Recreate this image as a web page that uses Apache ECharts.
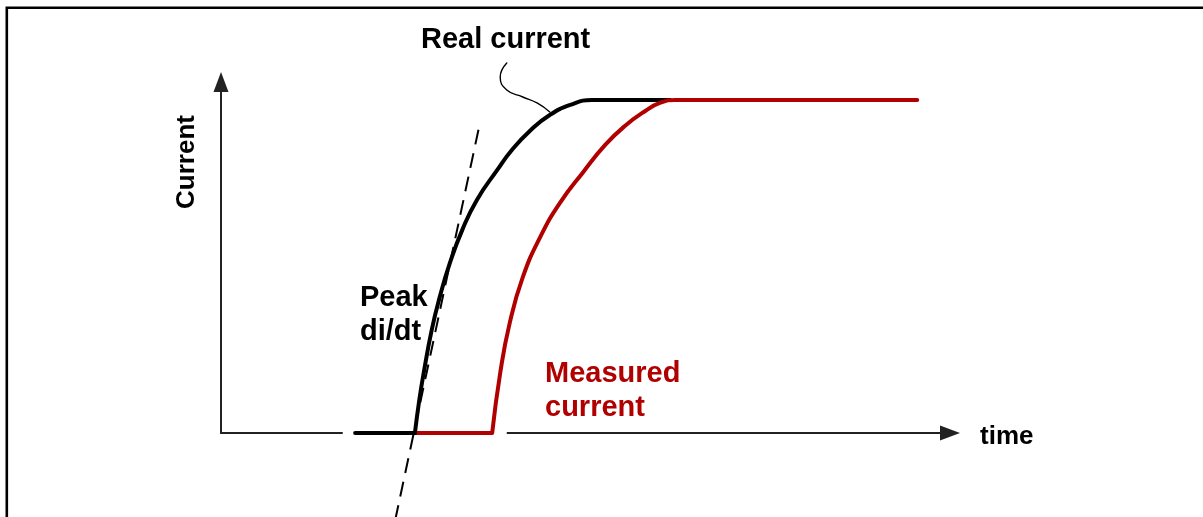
<!DOCTYPE html>
<html><head><meta charset="utf-8">
<script src="https://cdn.jsdelivr.net/npm/echarts@6/dist/echarts.min.js"></script>
<style>html,body{margin:0;padding:0;background:#fff}#chart{width:1203px;height:517px}</style>
</head><body><div id="chart"></div>
<script>
// time in arbitrary units (0..100), current normalised (1 = final value)
const timeRange = [0, 100];
const currentRange = [0, 1.054];

const realBaseT = [18.4, 26.6];
const realBaseI = [0, 0];
const realRiseT = [26.6, 27.2, 27.8, 28.9, 30.0, 31.4, 33.1, 35.1, 37.9, 39.9, 42.5, 45.1, 47.9, 50.9, 61.6];
const realRiseI = [0, 0.099, 0.180, 0.309, 0.408, 0.511, 0.610, 0.700, 0.790, 0.850, 0.910, 0.955, 0.985, 1.0, 1.0];

const measBaseT = [26.6, 37.2];
const measBaseI = [0, 0];
const measRiseT = [37.2, 38.3, 39.6, 41.4, 43.8, 46.5, 49.7, 52.7, 55.4, 58.2, 60.2, 62.3, 95.5];
const measRiseI = [0, 0.180, 0.330, 0.468, 0.589, 0.691, 0.784, 0.865, 0.922, 0.967, 0.991, 1.0, 1.0];

const tangentT = [23.9, 35.4];
const tangentI = [-0.261, 0.919];

const calloutT = [39.2, 38.3, 39.2, 41.4, 43.35, 45.1];
const calloutI = [1.111, 1.069, 1.030, 1.009, 0.991, 0.964];

const axisGapT = [16.7, 39.2];
const axisGapI = [0, 0];

const zip = (a, b) => a.map((v, k) => [v, b[k]]);
const FONT = "'Liberation Sans', Arial, Helvetica, sans-serif";
const RED = '#b00000';

const chart = echarts.init(document.getElementById('chart'), null, {renderer: 'canvas'});

function lineSeries(name, data, color, width, z, extra) {
  return Object.assign({
    name, type: 'line', data, symbol: 'none', silent: true, z,
    animation: false, clip: false,
    lineStyle: {color, width, cap: 'round', join: 'round'}
  }, extra || {});
}

chart.setOption({
  animation: false,
  backgroundColor: '#fff',
  grid: {left: 221, top: 82, width: 729, height: 351, containLabel: false},
  xAxis: {
    type: 'value', min: timeRange[0], max: timeRange[1],
    axisLine: {show: true, onZero: false, symbol: ['none', 'triangle'], symbolSize: [15, 20],
      lineStyle: {color: '#222', width: 2}},
    axisTick: {show: false}, axisLabel: {show: false}, splitLine: {show: false}
  },
  yAxis: {
    type: 'value', min: currentRange[0], max: currentRange[1],
    axisLine: {show: true, symbol: ['none', 'triangle'], symbolSize: [15, 20],
      lineStyle: {color: '#222', width: 2}},
    axisTick: {show: false}, axisLabel: {show: false}, splitLine: {show: false}
  },
  series: [
    lineSeries('axis gap', zip(axisGapT, axisGapI), '#fff', 7, 1, {lineStyle: {color: '#fff', width: 7, cap: 'butt'}}),
    lineSeries('Peak di/dt tangent', zip(tangentT, tangentI), '#000', 2, 2,
      {lineStyle: {color: '#000', width: 2, type: [15, 9], cap: 'butt'}}),
    lineSeries('Measured current base', zip(measBaseT, measBaseI), RED, 4, 3,
      {lineStyle: {color: RED, width: 4, cap: 'butt'}}),
    lineSeries('Real current base', zip(realBaseT, realBaseI), '#000', 4, 4),
    lineSeries('Real current', zip(realRiseT, realRiseI), '#000', 4, 4, {smooth: 0.5}),
    lineSeries('Measured current', zip(measRiseT, measRiseI), RED, 4, 5, {smooth: 0.5}),
    lineSeries('callout', zip(calloutT, calloutI), '#000', 1.4, 4, {smooth: 0.5})
  ],
  graphic: [
    {type: 'rect', shape: {x: 6.8, y: 7.7, width: 1400, height: 700}, style: {fill: 'none', stroke: '#000', lineWidth: 2.6}, silent: true},
    {type: 'text', x: 421, y: 40, style: {text: 'Real current', font: 'bold 29px ' + FONT, fill: '#000', align: 'left', verticalAlign: 'middle'}},
    {type: 'text', x: 360, y: 298, style: {text: 'Peak', font: 'bold 29px ' + FONT, fill: '#000', align: 'left', verticalAlign: 'middle'}},
    {type: 'text', x: 360, y: 332, style: {text: 'di/dt', font: 'bold 29px ' + FONT, fill: '#000', align: 'left', verticalAlign: 'middle'}},
    {type: 'text', x: 545, y: 374, style: {text: 'Measured', font: 'bold 29px ' + FONT, fill: RED, align: 'left', verticalAlign: 'middle'}},
    {type: 'text', x: 545, y: 408, style: {text: 'current', font: 'bold 29px ' + FONT, fill: RED, align: 'left', verticalAlign: 'middle'}},
    {type: 'text', x: 980, y: 437, style: {text: 'time', font: 'bold 26px ' + FONT, fill: '#000', align: 'left', verticalAlign: 'middle'}},
    {type: 'text', x: 187, y: 162, rotation: Math.PI / 2, style: {text: 'Current', font: 'bold 26px ' + FONT, fill: '#000', align: 'center', verticalAlign: 'middle'}}
  ]
});
</script>
</body></html>
